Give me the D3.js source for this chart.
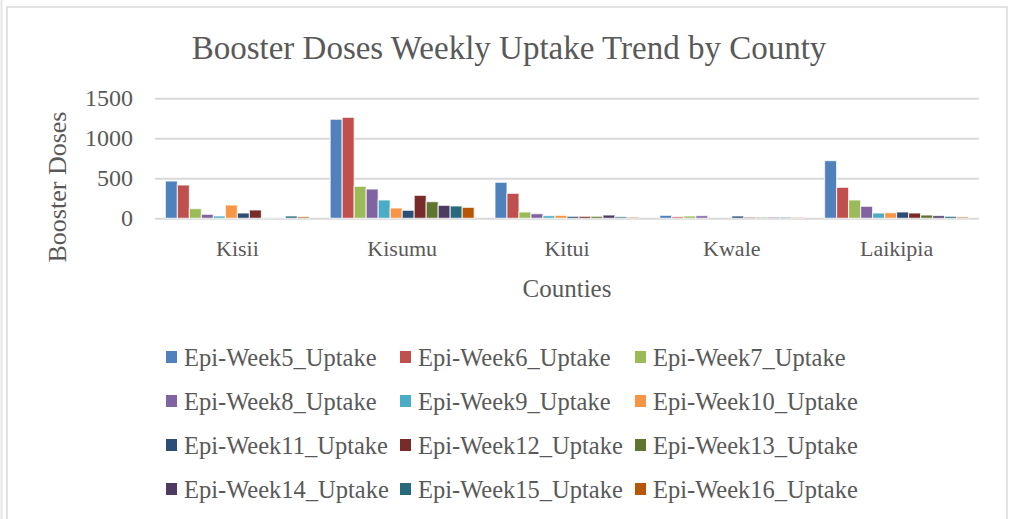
<!DOCTYPE html>
<html lang='en'>
<head>
  <meta charset='UTF-8'>
  <title>Booster Doses Weekly Uptake Trend by County</title>
  <script src="https://d3js.org/d3.v7.min.js"></script>
  <style>
    body { margin: 0; background: #fff; }
    text { font-family: 'Liberation Serif', 'DejaVu Serif', serif; fill: #595959; }
  </style>
</head>
<body>
  <div id="chart"></div>
  <script>
    const counties = ['Kisii', 'Kisumu', 'Kitui', 'Kwale', 'Laikipia'];
    const weeks = ['Epi-Week5_Uptake', 'Epi-Week6_Uptake', 'Epi-Week7_Uptake', 'Epi-Week8_Uptake',
      'Epi-Week9_Uptake', 'Epi-Week10_Uptake', 'Epi-Week11_Uptake', 'Epi-Week12_Uptake',
      'Epi-Week13_Uptake', 'Epi-Week14_Uptake', 'Epi-Week15_Uptake', 'Epi-Week16_Uptake'];
    const colors = ['#4f81bd', '#c0504d', '#9bbb59', '#8064a2', '#4bacc6', '#f79646',
      '#2c4d75', '#772c2a', '#5f7530', '#4d3b62', '#276a7c', '#b65708'];
    // one row per county, one value per week
    const kisii = [466, 416, 121, 50, 29, 166, 66, 104, 3, 3, 29, 20];
    const kisumu = [1238, 1262, 400, 366, 229, 129, 100, 287, 208, 162, 154, 137];
    const kitui = [450, 312, 79, 58, 33, 37, 25, 25, 25, 41, 20, 15];
    const kwale = [37, 20, 29, 33, 0, 0, 29, 15, 15, 15, 15, 10];
    const laikipia = [721, 387, 229, 150, 66, 70, 79, 66, 41, 33, 25, 17];
    const yTicks = [0, 500, 1000, 1500];

    const values = [kisii, kisumu, kitui, kwale, laikipia];

    const width = 1009;
    const height = 519;

    const svg = d3.select('#chart')
      .append('svg')
      .attr('width', width)
      .attr('height', height);

    // 枠
    svg.append('line')
      .attr('x1', 1.5).attr('x2', 1.5).attr('y1', 0).attr('y2', height)
      .attr('stroke', '#e6e6e6').attr('stroke-width', 2);
    svg.append('rect')
      .attr('x', 7).attr('y', 7)
      .attr('width', 1000).attr('height', 530)
      .attr('fill', '#fff')
      .attr('stroke', '#d9d9d9')
      .attr('stroke-width', 1.5);

    const xScale = d3.scaleBand()
      .domain(counties)
      .range([155, 979])
      .paddingInner(0.126)
      .paddingOuter(0.063);

    const xInner = d3.scaleBand()
      .domain(weeks)
      .range([0, xScale.bandwidth()]);

    const yScale = d3.scaleLinear()
      .domain([0, 1500])
      .range([218.3, 98.3]);

    // グリッド
    const yAxis = d3.axisLeft(yScale)
      .tickValues(yTicks)
      .tickFormat(d3.format('d'))
      .tickSize(-(979 - 155))
      .tickPadding(22);

    svg.append('g')
      .attr('transform', 'translate(155, 0)')
      .call(yAxis)
      .call((g) => g.select('.domain').remove())
      .call((g) => g.selectAll('line').attr('stroke', '#d9d9d9').attr('stroke-width', 2))
      .call((g) => g.selectAll('text')
        .attr('font-size', 24)
        .attr('font-family', 'Liberation Serif')
        .attr('fill', '#595959'));

    const xAxis = d3.axisBottom(xScale).tickSize(0).tickPadding(22);
    svg.append('g')
      .attr('transform', 'translate(0, 218.3)')
      .call(xAxis)
      .call((g) => g.select('.domain').remove())
      .call((g) => g.selectAll('text')
        .attr('font-size', 22)
        .attr('font-family', 'Liberation Serif')
        .attr('fill', '#595959'));

    // 棒
    svg.append('g')
      .selectAll('g')
      .data(counties)
      .join('g')
      .attr('transform', (d) => `translate(${xScale(d)}, 0)`)
      .selectAll('rect')
      .data((d, i) => values[i].map((v, j) => ({ week: weeks[j], value: v, color: colors[j] })))
      .join('rect')
      .attr('x', (d) => xInner(d.week))
      .attr('y', (d) => yScale(d.value))
      .attr('width', xInner.bandwidth())
      .attr('height', (d) => yScale(0) - yScale(d.value))
      .attr('fill', (d) => d.color)
      .attr('stroke', '#fff')
      .attr('stroke-opacity', 0.7)
      .attr('stroke-width', 1.2);

    // タイトル
    svg.append('text')
      .attr('x', 509)
      .attr('y', 59)
      .attr('text-anchor', 'middle')
      .attr('font-size', 33)
      .text('Booster Doses Weekly Uptake Trend by County');

    svg.append('text')
      .attr('transform', 'translate(66, 187) rotate(-90)')
      .attr('text-anchor', 'middle')
      .attr('font-size', 26)
      .text('Booster Doses');

    svg.append('text')
      .attr('x', 567)
      .attr('y', 297)
      .attr('text-anchor', 'middle')
      .attr('font-size', 25)
      .text('Counties');

    // 凡例
    const legendX = [166, 400, 635];
    const legendY = [357, 401, 445, 489];
    const legend = svg.append('g')
      .selectAll('g')
      .data(weeks)
      .join('g')
      .attr('transform', (d, i) => `translate(${legendX[i % 3]}, ${legendY[Math.floor(i / 3)]})`);

    legend.append('rect')
      .attr('x', 0)
      .attr('y', -6)
      .attr('width', 11)
      .attr('height', 12)
      .attr('fill', (d, i) => colors[i]);

    legend.append('text')
      .attr('x', 18)
      .attr('dy', '0.35em')
      .attr('font-size', 24.5)
      .text((d) => d);
  </script>
</body>
</html>
